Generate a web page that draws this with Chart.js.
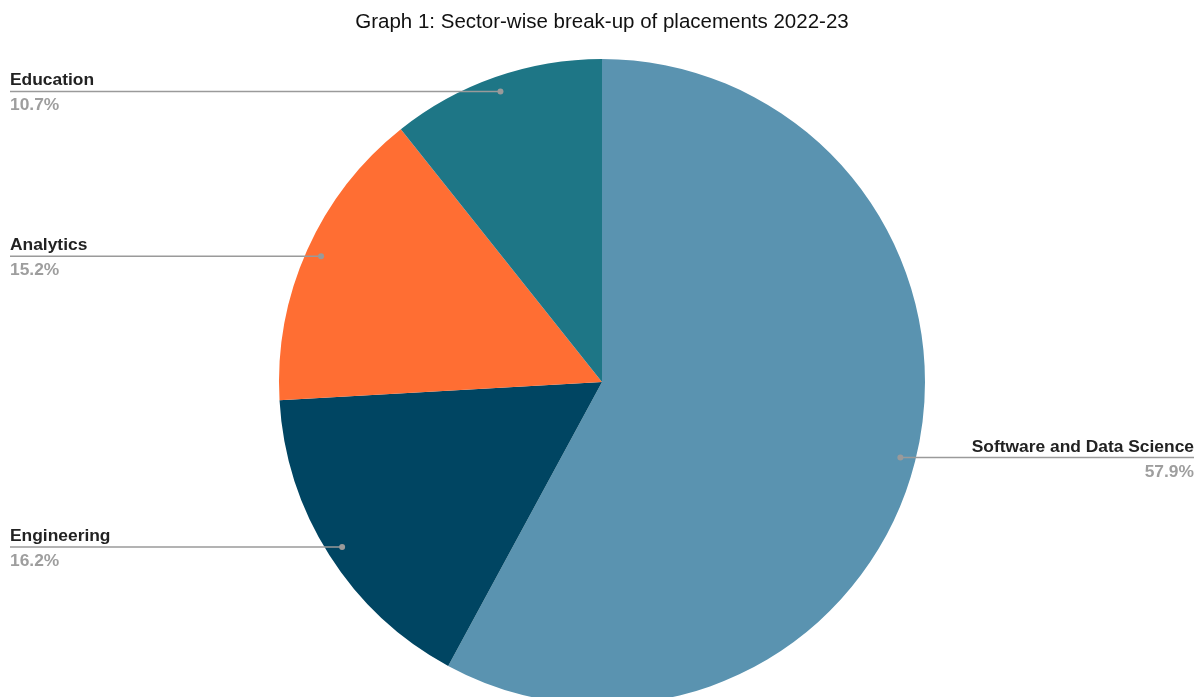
<!DOCTYPE html>
<html>
<head>
<meta charset="utf-8">
<script src="https://cdn.jsdelivr.net/npm/chart.js@4"></script>
<style>
  html, body { margin: 0; padding: 0; overflow: hidden; background: #fff; }
  #wrap { width: 1204px; height: 705px; position: relative; }
</style>
</head>
<body>
<div id="wrap"><canvas id="myPieChart"></canvas></div>
<script>
// data
var sectors = ['Software and Data Science', 'Engineering', 'Analytics', 'Education'];
var shares = [57.9, 16.2, 15.2, 10.7];
var sectorColors = ['#5a93b0', '#004562', '#ff6e33', '#1e7686'];

// leader lines + labels, drawn off each arc
var sideLabels = {
  id: 'sideLabels',
  afterDraw: function (chart) {
    var ctx = chart.ctx;
    var meta = chart.getDatasetMeta(0);
    var total = shares.reduce(function (a, b) { return a + b; }, 0);
    meta.data.forEach(function (arc, i) {
      var mid = (arc.startAngle + arc.endAngle) / 2;
      var r = arc.outerRadius * 0.953;
      var px = arc.x + Math.cos(mid) * r;
      var py = arc.y + Math.sin(mid) * r;
      var right = px > arc.x;
      var ex = right ? chart.width - 10 : 10;

      ctx.save();
      ctx.strokeStyle = '#9a9a9a';
      ctx.fillStyle = '#9a9a9a';
      ctx.lineWidth = 1.5;
      ctx.beginPath();
      ctx.moveTo(px, py);
      ctx.lineTo(ex, py);
      ctx.stroke();
      ctx.beginPath();
      ctx.arc(px, py, 3, 0, Math.PI * 2);
      ctx.fill();

      ctx.textAlign = right ? 'right' : 'left';
      ctx.textBaseline = 'alphabetic';
      ctx.font = 'bold 17.4px "Liberation Sans", Arial, sans-serif';
      ctx.fillStyle = '#222222';
      ctx.fillText(sectors[i], ex, py - 6);
      ctx.fillStyle = '#9e9e9e';
      ctx.fillText((shares[i] / total * 100).toFixed(1) + '%', ex, py + 19);
      ctx.restore();
    });
  }
};

var ctxPie = document.getElementById('myPieChart').getContext('2d');
var myChart = new Chart(ctxPie, {
  type: 'pie',
  data: {
    labels: sectors,
    datasets: [{
      data: shares,
      backgroundColor: sectorColors,
      borderWidth: 0,
      hoverOffset: 0
    }]
  },
  options: {
    responsive: true,
    maintainAspectRatio: false,
    animation: false,
    plugins: {
      legend: { display: false },
      tooltip: { enabled: false },
      title: {
        display: true,
        text: 'Graph 1: Sector-wise break-up of placements 2022-23',
        color: '#111',
        font: { family: '"Liberation Sans", Arial, sans-serif', size: 20.5, weight: 'normal' },
        padding: { top: 10, bottom: 24.4 }
      }
    }
  },
  plugins: [sideLabels]
});
</script>
</body>
</html>
